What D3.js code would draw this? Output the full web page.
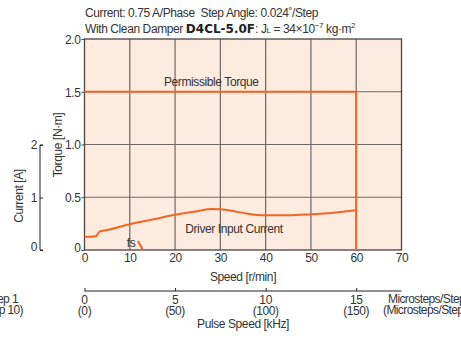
<!DOCTYPE html>
<html>
<head>
<meta charset="utf-8">
<script src="https://cdn.jsdelivr.net/npm/d3@7"></script>
<style>
  body { margin: 0; background: #fff; }
  svg text { font-family: "Liberation Sans", Arial, sans-serif; fill: #333; font-size: 12px; letter-spacing: -0.4px; }
</style>
</head>
<body>
<div id="chart"></div>
<script>
// chart values
const speedTicks = [0, 10, 20, 30, 40, 50, 60, 70];
const torqueTicks = [0, 0.5, 1.0, 1.5, 2.0];
const currentTicks = [0, 1, 2];
const pulseTicks = [0, 5, 10, 15];
const pulseTicks10 = ['(0)', '(50)', '(100)', '(150)'];

// Permissible torque [N·m] vs speed [r/min]
const permissibleSpeed = [0, 60, 60];
const permissibleTorque = [1.5, 1.5, 0];

// Driver input current [A] vs speed [r/min]
const currentSpeed = [0, 2.5, 3.3, 5, 10, 15, 20, 25, 28, 30, 33, 36, 40, 45, 50, 55, 60];
const currentValue = [0.25, 0.26, 0.35, 0.38, 0.49, 0.58, 0.67, 0.74, 0.78, 0.775, 0.74, 0.69, 0.66, 0.66, 0.68, 0.71, 0.755];

// fs (self-start frequency) mark
const fsSpeed = [11.8, 12.9];
const fsTorque = [0.085, 0];

const W = 461, H = 342;
const orange = '#f26522';
const gridColor = '#6e6764';

const svg = d3.select('#chart').append('svg')
  .attr('width', W)
  .attr('height', H);

const x = d3.scaleLinear().domain([0, 70]).range([84.5, 401.5]);
const y = d3.scaleLinear().domain([0, 2.0]).range([250, 39]);
const yCur = d3.scaleLinear().domain([0, 2]).range([250, 145]);
// pulse speed axis: 15 kHz = 60 r/min
const xPulse = d3.scaleLinear().domain([0, 15]).range([x(0), x(60)]);

// Title
svg.append('text')
  .attr('x', 85).attr('y', 17)
  .text('Current: 0.75 A/Phase\u00a0\u00a0Step Angle: 0.024\u02da/Step');

const t2 = svg.append('text')
  .attr('x', 85).attr('y', 33);
t2.append('tspan').text('With Clean Damper ');
t2.append('tspan')
  .style('font-family', '"DejaVu Sans", sans-serif')
  .style('font-weight', 'bold')
  .style('letter-spacing', '0px')
  .style('fill', '#222')
  .text('D4CL-5.0F');
t2.append('tspan').text(': J');
t2.append('tspan').style('font-size', '8px').text('L');
t2.append('tspan').text(' = 34\u00d710');
t2.append('tspan').attr('dy', -5).style('font-size', '8px').text('\u22127');
t2.append('tspan').attr('dy', 5).text(' kg\u00b7m');
t2.append('tspan').attr('dy', -5).style('font-size', '8px').text('2');

// Plot background
svg.append('rect')
  .attr('x', x(0)).attr('y', y(2.0))
  .attr('width', x(70) - x(0)).attr('height', y(0) - y(2.0))
  .attr('fill', '#fdebdf');

// Grid
const grid = svg.append('g').attr('class', 'grid');
grid.selectAll('line.v')
  .data(speedTicks.slice(1, -1))
  .join('line')
  .attr('class', 'v')
  .attr('x1', d => x(d)).attr('x2', d => x(d))
  .attr('y1', y(2.0)).attr('y2', y(0))
  .attr('stroke', gridColor).attr('stroke-width', 1.2);
grid.selectAll('line.h')
  .data(torqueTicks.slice(1, -1))
  .join('line')
  .attr('class', 'h')
  .attr('x1', x(0)).attr('x2', x(70))
  .attr('y1', d => y(d)).attr('y2', d => y(d))
  .attr('stroke', gridColor).attr('stroke-width', 1.2);

// Frame
svg.append('rect')
  .attr('x', x(0)).attr('y', y(2.0))
  .attr('width', x(70) - x(0)).attr('height', y(0) - y(2.0))
  .attr('fill', 'none')
  .attr('stroke', '#4a4442').attr('stroke-width', 1.3);

// Torque axis
const yAxis = d3.axisLeft(y)
  .tickValues(torqueTicks)
  .tickFormat(d => d === 0 ? '0' : d3.format('.1f')(d))
  .tickSize(3).tickPadding(1);
const gy = svg.append('g')
  .attr('transform', `translate(${x(0)},0)`)
  .call(yAxis);
gy.select('.domain').remove();
gy.selectAll('line').attr('stroke', '#4a4442');
gy.selectAll('text').attr('dy', '0.36em');
gy.selectAll('.tick').filter(d => d === 0).select('text').attr('dy', '0.1em');

// Speed axis
const xAxis = d3.axisBottom(x)
  .tickValues(speedTicks)
  .tickSize(0).tickPadding(3);
const gx = svg.append('g')
  .attr('transform', `translate(0,${y(0)})`)
  .call(xAxis);
gx.select('.domain').remove();

svg.append('text')
  .attr('x', 243).attr('y', 281)
  .attr('text-anchor', 'middle')
  .text('Speed [r/min]');

// Current axis
const cAxis = d3.axisRight(yCur)
  .tickValues(currentTicks)
  .tickSize(3).tickFormat('');
const gc = svg.append('g')
  .attr('transform', 'translate(40,0)')
  .call(cAxis);
gc.select('.domain').attr('d', `M3,${yCur(2)}H0V${yCur(0)}H3`).attr('stroke', '#222');
gc.selectAll('line').attr('stroke', '#222');
svg.append('g').selectAll('text')
  .data(currentTicks)
  .join('text')
  .attr('x', 37).attr('y', d => yCur(d))
  .attr('dy', d => d === 0 ? '0.1em' : '0.36em')
  .attr('text-anchor', 'end')
  .text(d => d);

svg.append('text')
  .attr('transform', 'translate(23,196) rotate(-90)')
  .attr('text-anchor', 'middle')
  .text('Current [A]');
svg.append('text')
  .attr('transform', 'translate(62,145) rotate(-90)')
  .attr('text-anchor', 'middle')
  .text('Torque [N\u00b7m]');

// Curves
const lineT = d3.line().x(d => x(d[0])).y(d => y(d[1]));
const lineC = d3.line().x(d => x(d[0])).y(d => yCur(d[1])).curve(d3.curveMonotoneX);

svg.append('path')
  .datum(d3.zip(permissibleSpeed, permissibleTorque))
  .attr('d', lineT)
  .attr('fill', 'none').attr('stroke', orange).attr('stroke-width', 2);

svg.append('path')
  .datum(d3.zip(currentSpeed, currentValue))
  .attr('d', lineC)
  .attr('fill', 'none').attr('stroke', orange).attr('stroke-width', 2);

svg.append('path')
  .datum(d3.zip(fsSpeed, fsTorque))
  .attr('d', lineT)
  .attr('fill', 'none').attr('stroke', orange).attr('stroke-width', 2);

// Curve labels
svg.append('text')
  .attr('x', x(28)).attr('y', 86)
  .attr('text-anchor', 'middle')
  .text('Permissible Torque');
svg.append('text')
  .attr('x', x(33)).attr('y', 232.5)
  .attr('text-anchor', 'middle')
  .text('Driver Input Current');
svg.append('text')
  .attr('x', x(10.3)).attr('y', 246.5)
  .attr('text-anchor', 'middle')
  .text('fs');

// Pulse speed axis
const pAxis = d3.axisTop(xPulse)
  .tickValues(pulseTicks)
  .tickSize(3).tickFormat('');
const gp = svg.append('g')
  .attr('transform', 'translate(0,291)')
  .call(pAxis);
gp.select('.domain').attr('d', `M${x(0)},0H${x(70)}`).attr('stroke', '#222');
gp.selectAll('line').attr('stroke', '#222');

svg.append('g').selectAll('text')
  .data(pulseTicks)
  .join('text')
  .attr('x', d => xPulse(d)).attr('y', 303.5)
  .attr('text-anchor', 'middle')
  .text(d => d);
svg.append('g').selectAll('text')
  .data(pulseTicks10)
  .join('text')
  .attr('x', (d, i) => xPulse(pulseTicks[i])).attr('y', 314.5)
  .attr('text-anchor', 'middle')
  .text(d => d);

svg.append('text')
  .attr('x', 243).attr('y', 328)
  .attr('text-anchor', 'middle')
  .text('Pulse Speed [kHz]');

// Microstep labels (run off the page edges as in the original)
const micro = svg.append('g')
  .style('font-size', '10.5px');
micro.append('text').attr('x', 18).attr('y', 303).attr('text-anchor', 'end')
  .style('letter-spacing', '-0.6px').text('Microsteps/Step 1');
micro.append('text').attr('x', 23).attr('y', 313.5).attr('text-anchor', 'end')
  .style('letter-spacing', '-0.6px').text('(Microsteps/Step 10)');
micro.append('text').attr('x', 388).attr('y', 303)
  .style('letter-spacing', '-0.6px').text('Microsteps/Step 1');
micro.append('text').attr('x', 383).attr('y', 313.5)
  .style('letter-spacing', '-0.6px').text('(Microsteps/Step 10)');
</script>
</body>
</html>
